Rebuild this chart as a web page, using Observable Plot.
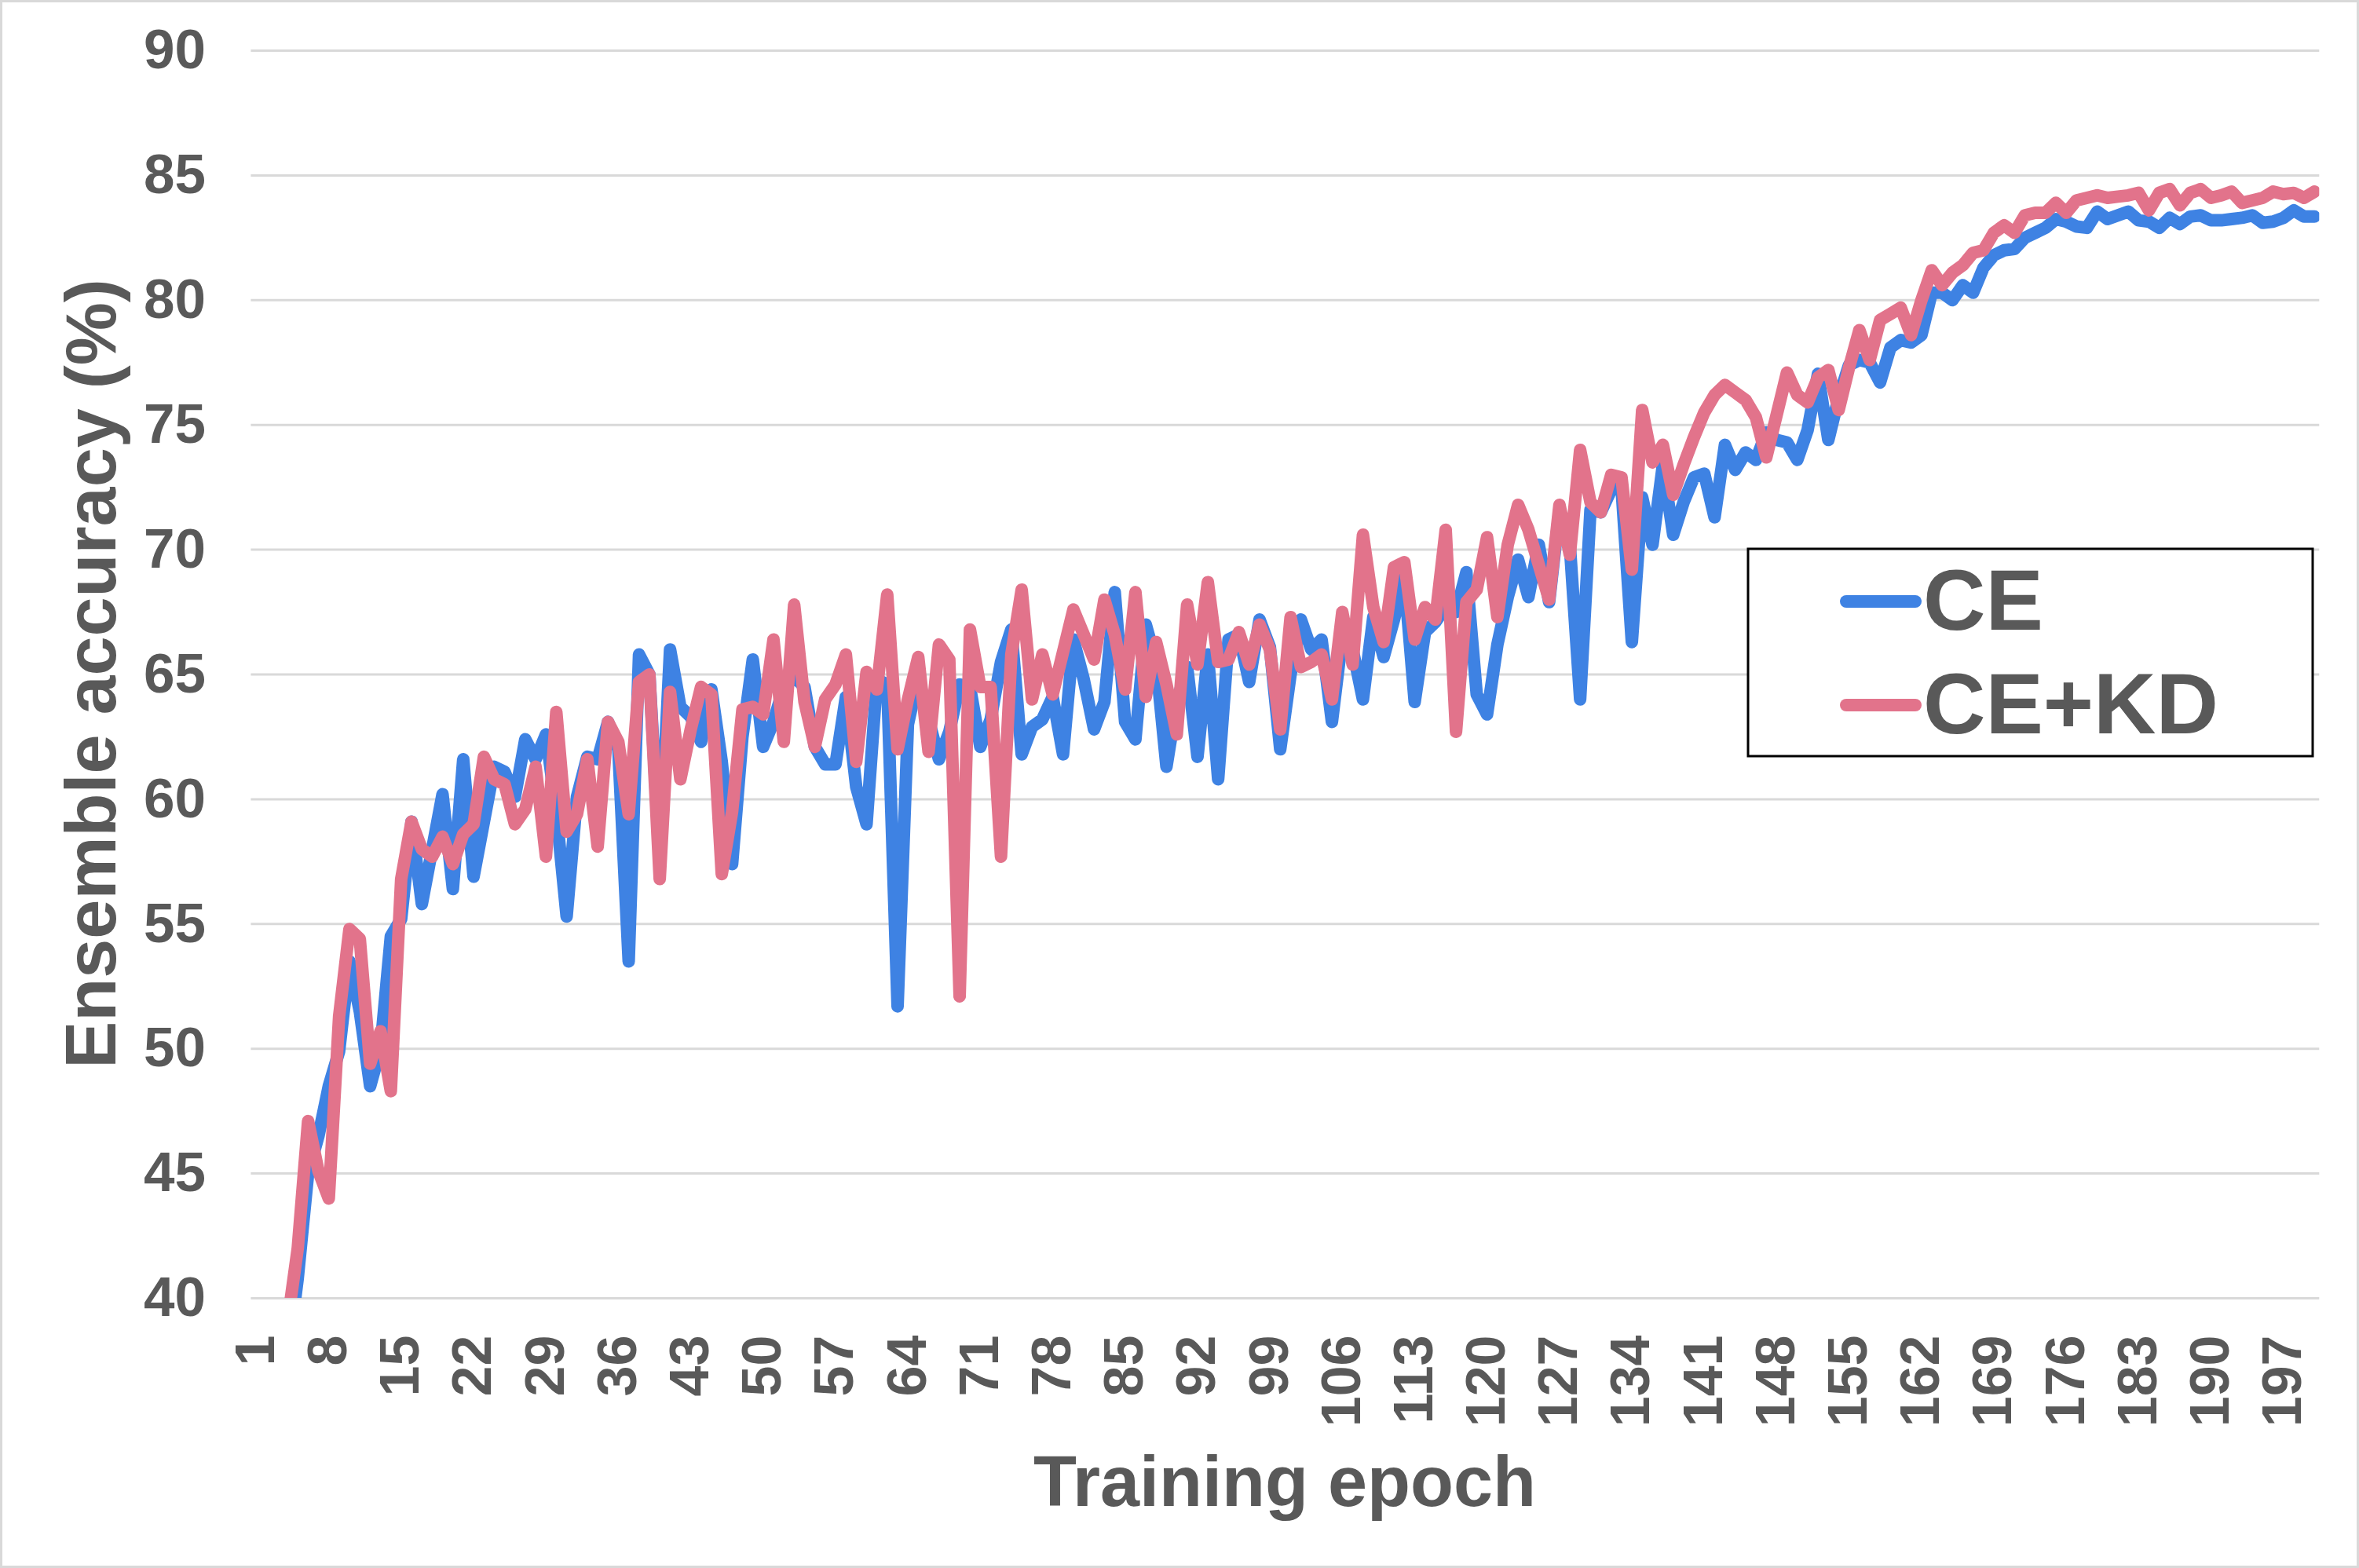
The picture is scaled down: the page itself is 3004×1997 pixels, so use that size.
<!DOCTYPE html>
<html><head><meta charset="utf-8">
<script src="https://cdn.jsdelivr.net/npm/d3@7"></script>
<script src="https://cdn.jsdelivr.net/npm/@observablehq/plot@0.6"></script>
<style>
html,body{margin:0;padding:0;background:#fff;}
#wrap{position:relative;width:3004px;height:1997px;overflow:hidden;background:#fff;}
#border{position:absolute;left:0;top:0;right:0;bottom:0;border:3px solid #d9d9d9;pointer-events:none;z-index:2;}
svg{display:block;}
</style></head><body><div id="wrap"><div id="border"></div></div>
<script>
const epochs = d3.range(1, 201);
const ceAcc = [22.0,30.0,34.5,37.5,40.8,45.0,46.5,48.5,49.9,53.5,
51.5,48.5,50.0,54.5,55.2,59.1,55.8,58.0,60.2,56.4,
61.6,56.9,59.1,61.3,61.1,60.1,62.4,61.6,62.6,59.5,
55.3,60.1,61.7,61.6,63.1,62.0,53.5,65.8,65.0,57.5,
66.0,63.7,63.3,62.3,64.4,61.5,57.4,62.5,65.6,62.1,
63.1,64.5,64.9,64.5,62.1,61.4,61.4,64.1,60.5,59.0,
64.8,64.6,51.7,63.0,64.9,63.2,61.6,62.7,64.6,64.5,
62.1,63.2,65.5,66.8,61.8,62.9,63.2,64.1,61.8,66.4,
64.8,62.8,63.9,68.3,63.1,62.4,67.0,65.5,61.3,63.9,
65.3,61.7,65.8,60.8,66.4,66.6,64.7,67.2,66.1,62.0,
65.0,67.2,66.0,66.4,63.1,66.5,66.0,64.0,67.3,65.7,
67.2,68.9,63.9,66.7,67.1,67.7,67.5,69.1,64.2,63.4,
66.2,68.1,69.6,68.1,70.2,67.9,71.6,70.2,64.0,71.6,
71.5,72.4,72.5,66.3,72.1,70.2,73.4,70.6,71.9,72.9,
73.05,71.3,74.2,73.2,73.9,73.6,74.7,74.4,74.3,73.6,
74.8,77.05,74.4,76.1,77.4,77.6,77.5,76.7,78.1,78.4,
78.3,78.6,80.3,80.3,80.0,80.6,80.3,81.3,81.8,82.0,
82.05,82.5,82.7,82.9,83.25,83.15,82.95,82.9,83.55,83.25,
83.4,83.55,83.2,83.15,82.9,83.3,83.05,83.35,83.4,83.2,
83.2,83.25,83.3,83.4,83.1,83.15,83.3,83.6,83.35,83.35];
const kdAcc = [25.0,32.0,36.5,39.0,42.0,47.1,45.1,44.0,51.3,54.8,
54.4,49.4,50.7,48.3,56.8,59.1,58.0,57.7,58.5,57.4,
58.6,59.0,61.7,60.8,60.6,59.0,59.6,61.3,57.7,63.5,
58.7,59.4,61.6,58.1,63.1,62.3,59.4,64.7,65.0,56.8,
64.3,60.8,62.8,64.5,64.2,57.0,59.5,63.6,63.7,63.4,
66.4,62.3,67.8,63.9,62.1,64.0,64.6,65.8,61.5,65.1,
64.4,68.2,62.0,64.0,65.7,61.9,66.2,65.6,52.1,66.8,
64.5,64.5,57.7,65.8,68.4,64.0,65.8,64.2,65.9,67.6,
66.6,65.6,68.0,66.6,64.4,68.3,64.1,66.3,64.6,62.6,
67.8,65.4,68.7,65.5,65.6,66.7,65.4,67.0,66.0,62.8,
67.3,65.3,65.5,65.8,64.0,67.5,65.4,70.6,67.7,66.3,
69.3,69.5,66.4,67.7,67.2,70.8,62.7,67.9,68.4,70.5,
67.3,70.2,71.8,70.8,69.4,68.0,71.8,69.8,74.0,71.9,
71.5,73.0,72.9,69.2,75.6,73.5,74.2,72.2,73.4,74.5,
75.5,76.2,76.6,76.3,76.0,75.3,73.7,75.4,77.1,76.2,
75.9,76.9,77.2,75.6,77.3,78.8,77.6,79.2,79.45,79.7,
78.6,80.0,81.2,80.6,81.1,81.4,81.9,82.0,82.7,83.0,
82.7,83.4,83.5,83.5,83.9,83.5,84.0,84.1,84.2,84.1,
84.15,84.2,84.3,83.6,84.3,84.45,83.8,84.3,84.45,84.1,
84.2,84.35,83.9,84.0,84.1,84.35,84.25,84.3,84.1,84.35];
const yTicks = [40,45,50,55,60,65,70,75,80,85,90];
const xTicks = [1,8,15,22,29,36,43,50,57,64,71,78,85,92,99,106,113,120,127,134,141,148,155,162,169,176,183,190,197];
const seriesNames = ["CE", "CE+KD"];
const seriesColors = ["#3E82E3", "#E2738B"];

const rows = epochs.map((e, i) => ({epoch: e, ce: ceAcc[i], kd: kdAcc[i]}));
const FONT = "'Liberation Sans', Arial, Helvetica, sans-serif";
const GRAY = "#595959";
const LW = 16;

const chart = Plot.plot({
  width: 3004, height: 1997,
  marginTop: 64, marginBottom: 344, marginLeft: 319.4, marginRight: 50.7,
  x: {domain: [0.5, 200.5]},
  y: {domain: [40, 90]},
  style: {fontFamily: FONT, background: "#fff"},
  marks: [
    Plot.gridY(yTicks, {stroke: "#d9d9d9", strokeOpacity: 1, strokeWidth: 3}),
    Plot.axisY(yTicks, {tickSize: 0, tickPadding: 58, fontSize: 71, fontWeight: "bold", color: GRAY, label: null}),
    Plot.axisX(xTicks, {tickSize: 0, tickPadding: 47, tickRotate: -90, fontSize: 70, fontWeight: "bold", color: GRAY, label: null}),
    Plot.lineY(rows, {x: "epoch", y: "ce", stroke: seriesColors[0], strokeWidth: LW, strokeLinecap: "round", strokeLinejoin: "round", clip: true}),
    Plot.lineY(rows, {x: "epoch", y: "kd", stroke: seriesColors[1], strokeWidth: LW, strokeLinecap: "round", strokeLinejoin: "round", clip: true})
  ]
});

const svg = d3.select(chart);
svg.append("text")
  .attr("transform", "translate(147,858) rotate(-90)")
  .attr("text-anchor", "middle")
  .attr("font-family", FONT).attr("font-weight", "bold").attr("font-size", 90)
  .attr("fill", GRAY)
  .text("Ensemble accuracy (%)");
svg.append("text")
  .attr("x", 1636).attr("y", 1918)
  .attr("text-anchor", "middle")
  .attr("font-family", FONT).attr("font-weight", "bold").attr("font-size", 90)
  .attr("fill", GRAY)
  .text("Training epoch");

const lg = svg.append("g");
lg.append("rect").attr("x", 2226).attr("y", 699).attr("width", 719).attr("height", 264)
  .attr("fill", "#fff").attr("stroke", "#000").attr("stroke-width", 3);
const rowY = [766, 898];
seriesNames.forEach((name, i) => {
  lg.append("line").attr("x1", 2351).attr("x2", 2439).attr("y1", rowY[i]).attr("y2", rowY[i])
    .attr("stroke", seriesColors[i]).attr("stroke-width", LW).attr("stroke-linecap", "round");
  lg.append("text").attr("x", 2449).attr("y", rowY[i] + 36)
    .attr("text-anchor", "start")
    .attr("font-family", FONT).attr("font-weight", "bold").attr("font-size", 110)
    .attr("fill", GRAY).text(name);
});

document.getElementById("wrap").prepend(chart);
</script></body></html>
